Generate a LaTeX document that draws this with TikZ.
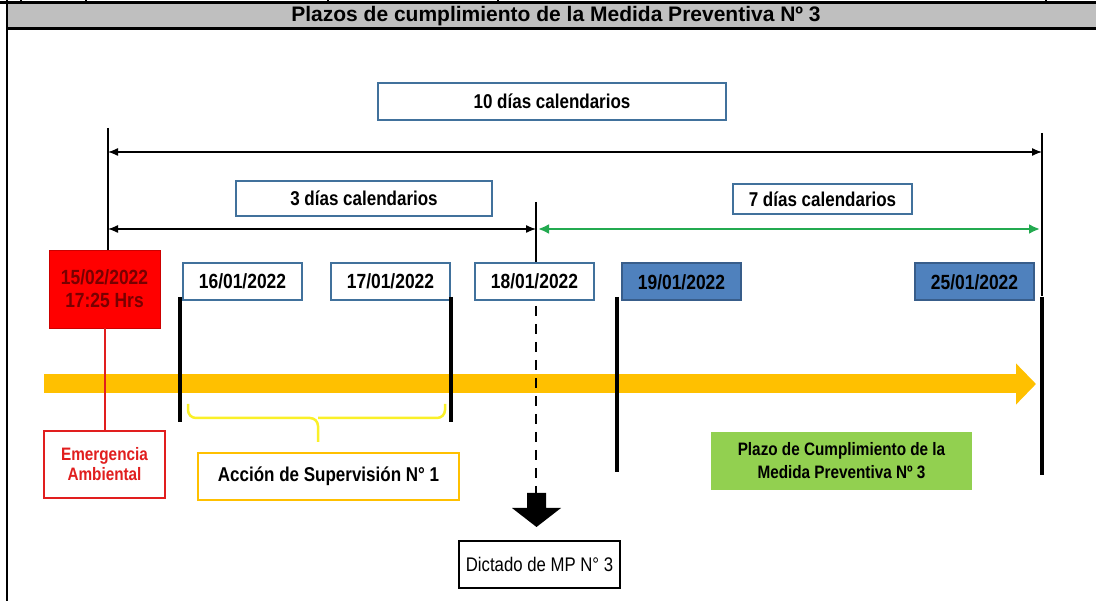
\documentclass[tikz,border=0pt]{standalone}
\usepackage{fontspec}
\setmainfont{Liberation Sans}
\newfontfamily\narrowsf{Liberation Sans}[FakeStretch=0.85]
\usetikzlibrary{arrows.meta, positioning, calc}

\definecolor{headgray}{RGB}{191,191,191}
\definecolor{boxblue}{RGB}{65,113,156}
\definecolor{datefill}{RGB}{79,129,189}
\definecolor{dateline}{RGB}{56,93,138}
\definecolor{timeorange}{RGB}{255,192,0}
\definecolor{spangreen}{RGB}{35,170,80}
\definecolor{plazogreen}{RGB}{146,208,80}
\definecolor{emred}{RGB}{225,30,30}
\definecolor{darkred}{RGB}{120,0,0}
\definecolor{braceyellow}{RGB}{250,240,40}

\begin{document}
\begin{tikzpicture}[
    x=1pt, y=-1pt,
    >={Latex[length=10pt, width=8pt]},
    every node/.style={inner sep=0pt, align=center},
    spanbox/.style={rectangle, draw=boxblue, line width=2pt, fill=white, font=\narrowsf\bfseries\fontsize{20}{22}\selectfont},
    datebox/.style={rectangle, draw=boxblue, line width=2pt, fill=white, minimum width=119, minimum height=37, font=\narrowsf\bfseries\fontsize{20.5}{22}\selectfont},
    datefull/.style={datebox, draw=dateline, fill=datefill},
    redbox/.style={rectangle, draw=red!80!black, fill=red, minimum width=111, minimum height=78, text=darkred, font=\narrowsf\bfseries\fontsize{20.5}{23}\selectfont},
    emergbox/.style={rectangle, draw=emred, line width=2pt, fill=white, minimum width=121, minimum height=67, text=emred, font=\narrowsf\bfseries\fontsize{18}{20}\selectfont},
    accionbox/.style={rectangle, draw=timeorange, line width=2pt, fill=white, minimum width=261, minimum height=47, font=\narrowsf\bfseries\fontsize{20}{22}\selectfont},
    plazobox/.style={rectangle, fill=plazogreen, minimum width=261, minimum height=58, font=\narrowsf\bfseries\fontsize{18}{23}\selectfont},
    dictbox/.style={rectangle, draw=black, line width=2pt, fill=white, minimum width=161, minimum height=47, font=\narrowsf\fontsize{19.7}{22}\selectfont},
    bar/.style={line width=4pt, black}
]
\useasboundingbox (0,0) rectangle (1096,601);

% Header
\draw[line width=3pt] (0,3) -- (1096,3);
\foreach \xx in {21, 86, 328, 498, 1046}
    \draw[line width=1.5pt] (\xx,0) -- (\xx,3);
\draw[line width=0.8pt] (513,1) -- (915,1);
\fill[headgray] (7,4.5) rectangle (1096,28);
\draw[line width=3pt] (7,29) -- (1096,29);
\draw[line width=2pt] (7,0) -- (7,601);
\node[font=\bfseries\fontsize{21}{24}\selectfont] (title) at (556,16) {Plazos de cumplimiento de la Medida Preventiva Nº 3};

% Span boxes
\node[spanbox, minimum width=348, minimum height=37] (ten) at (552,101.5) {10 días calendarios};
\node[spanbox, minimum width=256, minimum height=35] (three) at (364,198.5) {3 días calendarios};
\node[spanbox, minimum width=179, minimum height=30] (seven) at (822.5,199) {7 días calendarios};

% Timeline
\coordinate (tl0) at (44,384);
\coordinate (tl1) at (1036,384);
\draw[timeorange, line width=19pt, -{Triangle[length=20pt, width=40pt]}] (tl0) -- (tl1);

% Dates
\node[redbox] (d15) at (104.5,289) {15/02/2022\\17:25 Hrs};
\node[datebox] (d16) at (242.5,281.5) {16/01/2022};
\node[datebox] (d17) at (390.5,281.5) {17/01/2022};
\node[datebox] (d18) at (534.5,281.5) {18/01/2022};
\node[datefull] (d19) at (681.5,282) {19/01/2022};
\node[datefull] (d25) at (974.5,282) {25/01/2022};

% Guide lines and spans
\coordinate (start) at (108,128);
\coordinate (finish) at (1042,133);
\coordinate (mid) at (536,202);
\coordinate (l10) at (108,152);
\coordinate (r10) at (1042,152);
\coordinate (l3) at (108,229);
\coordinate (m3) at (536,229);
\coordinate (r7) at (1042,229);
\draw[line width=1.2pt] (start) -- (start |- d15.north);
\draw[line width=1.2pt] (finish) -- (1042,296);
\draw[line width=1.2pt] (mid) -- (mid |- d18.north);
\draw[<->, line width=1.3pt] (l10) -- (r10);
\draw[<->, line width=1.3pt] (l3) -- (m3);
\draw[{Latex[length=11pt, width=10pt]}-{Latex[length=11pt, width=10pt]}, line width=2.6pt, spangreen] ($(m3)+(2,0)$) -- ($(r7)+(-2,0)$);

% Bars
\foreach \bx/\by in {180/422, 451/422, 617/472, 1042/475}
    \draw[bar] (\bx,297) -- (\bx,\by);

% Emergency
\node[emergbox] (emerg) at (104.5,464.5) {Emergencia\\Ambiental};
\draw[emred, line width=2pt] (d15.south) -- (emerg.north);

% Supervision
\draw[braceyellow, line width=2.5pt, rounded corners=8pt] (188,404) |- (318,418) -- (318,442);
\draw[braceyellow, line width=2.5pt, rounded corners=8pt] (445,404) |- (318,418);
\node[accionbox] (accion) at (328.5,476.5) {Acción de Supervisión N° 1};

% Dictado
\coordinate (dtop) at (536,306);
\coordinate (dbot) at (536,493);
\draw[line width=2.5pt, dash pattern=on 10pt off 8pt] (dtop) -- (dbot);
\fill (527,493) -- (546,493) -- (546,508) -- (561,508) -- (536.5,527) -- (512,508) -- (527,508) -- cycle;
\node[dictbox] (dict) at (539.5,564.5) {Dictado de MP N° 3};

% Plazo
\node[plazobox] (plazo) at (841.5,461) {Plazo de Cumplimiento de la\\Medida Preventiva Nº 3};

\end{tikzpicture}
\end{document}
